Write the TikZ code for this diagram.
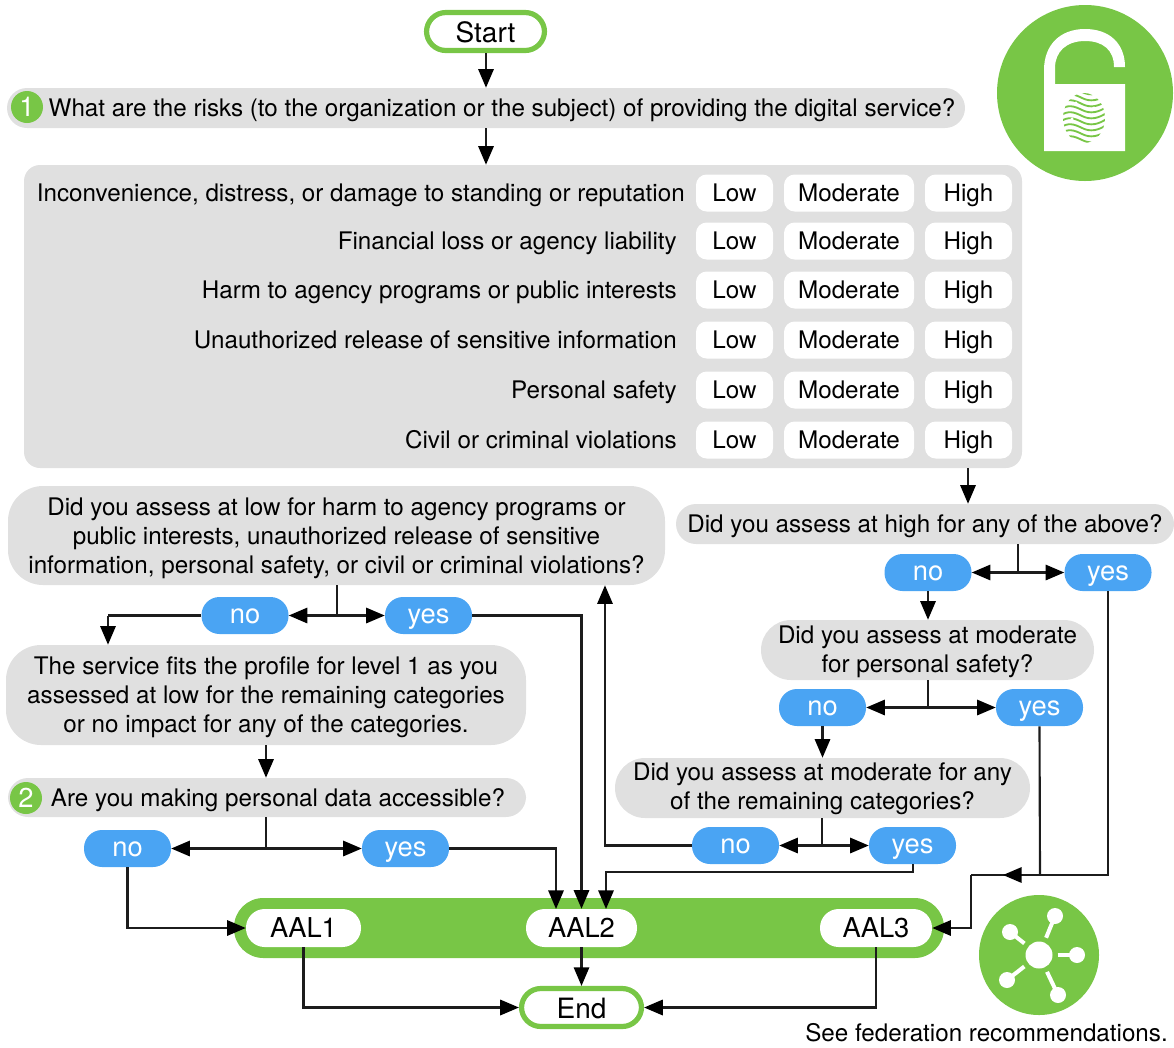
\documentclass[tikz,border=0pt]{standalone}
\usepackage{fontspec}
\setmainfont{TeX Gyre Heros}
\usetikzlibrary{arrows.meta,calc}
\definecolor{grn}{HTML}{78C646}
\definecolor{blu}{HTML}{4AA4F3}
\definecolor{gry}{HTML}{E0E0E0}
\definecolor{ink}{HTML}{1C1C1C}
\newcommand\topfix[1]{\rule{0pt}{#1pt}}
\tikzset{
  x=0.75pt,y=-0.75pt,
  size/.style 2 args={minimum width=#1*0.75pt,minimum height=#2*0.75pt,inner sep=0pt},
  txt/.style={font=\fontsize{18.15}{21.75}\selectfont,text=black},
  oneline/.style={text height=13pt,text depth=0pt},
  graybox/.style={fill=gry,rounded corners=#1*0.75pt,txt,align=center},
  cell/.style={fill=white,rounded corners=8pt,txt,oneline,size={#1}{37}},
  rowlabel/.style={txt,oneline,anchor=east,inner sep=0pt},
  pill/.style={fill=blu,rounded corners=13.5pt,text=white,font=\fontsize{20.5}{24}\selectfont,text height=11.8pt,text depth=0pt,size={87}{37}},
  term/.style={draw=grn,line width=3.9pt,fill=white,rounded corners=14.5pt,font=\fontsize{21}{24}\selectfont,text=black,text height=16.5pt,text depth=0pt},
  aal/.style={fill=white,rounded corners=14pt,font=\fontsize{20.5}{24}\selectfont,text=black,text height=14.7pt,text depth=0pt,size={#1}{38}},
  badge/.style={circle,fill=grn,text=white,minimum size=24pt,inner sep=0pt,font=\fontsize{20.5}{24}\selectfont,text height=14.7pt,text depth=0pt},
  conn/.style={draw=ink,line width=1.6pt},
  arr/.style={conn,-{Triangle[length=14pt,width=11.5pt,color=black]}},
  arrs/.style={conn,{Triangle[length=14pt,width=11.5pt,color=black]}-{Triangle[length=14pt,width=11.5pt,color=black]}},
}
\begin{document}
\begin{tikzpicture}
\useasboundingbox (0,0) rectangle (1174,1047);
% gray panels
\node[graybox=20,oneline,size={958}{40}] (q1) at (486,108) {\hspace*{24pt}What are the risks (to the organization or the subject) of providing the digital service?};
\node[badge] (b1) at (27,107) {1};
\node[graybox=16,size={998}{303}] (tbl) at (523,316.5) {};
\foreach \i/\y/\t/\rx in {
  1/193/Inconvenience{,} distress{,} or damage to standing or reputation/685,
  2/241/Financial loss or agency liability/677,
  3/290/Harm to agency programs or public interests/677,
  4/340/Unauthorized release of sensitive information/677,
  5/390/Personal safety/677,
  6/440/Civil or criminal violations/677}{
  \node[rowlabel] (r\i) at (\rx,\y) {\t};
  \node[cell=77] (low\i) at (734.5,\y) {Low};
  \node[cell=130] (mod\i) at (849,\y) {Moderate};
  \node[cell=87] (high\i) at (968.5,\y) {High};
}
\node[graybox=35,size={657}{99}] (qlow) at (336.5,535.5) {\topfix{17.5}Did you assess at low for harm to agency programs or\\public interests, unauthorized release of sensitive\\information, personal safety, or civil or criminal violations?};
\node[graybox=20,oneline,size={498}{40}] (qhigh) at (925,524) {Did you assess at high for any of the above?};
\node[graybox=30,size={333}{60}] (qmod) at (927.5,650) {\topfix{16}Did you assess at moderate\\for personal safety?};
\node[graybox=30,size={415}{60}] (qrem) at (822.5,788) {\topfix{15}Did you assess at moderate for any\\of the remaining categories?};
\node[graybox=35,size={520}{100}] (qfit) at (266,695) {\topfix{16}The service fits the profile for level 1 as you\\assessed at low for the remaining categories\\or no impact for any of the categories.};
\node[graybox=20,oneline,size={518}{39}] (q2) at (267,797.5) {\hspace*{16.5pt}Are you making personal data accessible?};
\node[badge] (b2) at (26,798) {2};
% pills
\node[pill] (noA) at (928,572.5) {no};
\node[pill] (yesA) at (1108,572.5) {yes};
\node[pill] (noB) at (822.5,707.5) {no};
\node[pill] (yesB) at (1039.5,707.5) {yes};
\node[pill] (noC) at (735.5,845.5) {no};
\node[pill] (yesC) at (912.5,845.5) {yes};
\node[pill] (noD) at (245,615.5) {no};
\node[pill] (yesD) at (428.5,615.5) {yes};
\node[pill] (noE) at (127.5,848.5) {no};
\node[pill] (yesE) at (405.5,848.5) {yes};
% terminals
\node[term,size={118}{38}] (startn) at (485.5,31.5) {Start};
\node[fill=grn,rounded corners=22pt,size={710}{60}] (bar) at (589,928) {};
\node[aal=115] (a1) at (303.5,928) {AAL1};
\node[aal=111] (a2) at (581.5,928) {AAL2};
\node[aal=112] (a3) at (876,928) {AAL3};
\node[term,size={120}{38}] (endn) at (581.5,1007.5) {End};
\node[txt,oneline,anchor=east,inner sep=0pt] (note) at (1168,1033) {See federation recommendations.};
% stems
\coordinate (sA) at (1018,573);
\coordinate (sB) at (928,708);
\coordinate (sC) at (822,845);
\coordinate (sD) at (337,616);
\coordinate (sE) at (266,848);
\coordinate (join) at (1040,875);
\coordinate (bend) at (971,875);
\coordinate (fitTop) at (108,615.5);
\coordinate (upX) at (605,845.5);
\coordinate (a2L) at (556,909);
\coordinate (a2R) at (606,909);
\coordinate (yesCb) at (913,872);
% connectors
\draw[arr] (startn.south -| 486,0) -- (q1.north -| 486,0);
\draw[arr] (q1.south -| 486,0) -- (tbl.north -| 486,0);
\draw[arr] (tbl.south -| 968,0) -- (qhigh.north -| 968,0);
\draw[conn] (qhigh.south -| sA) -- (sA);
\draw[arrs] (noA.east) -- (yesA.west);
\draw[arr] (noA.south) -- (qmod.north -| noA);
\draw[conn] (qmod.south -| sB) -- (sB);
\draw[arrs] (noB.east) -- (yesB.west);
\draw[arr] (noB.south) -- (qrem.north -| noB);
\draw[conn] (qrem.south -| sC) -- (sC);
\draw[arrs] (noC.east) -- (yesC.west);
\draw[conn] (qlow.south -| sD) -- (sD);
\draw[arrs] (noD.east) -- (yesD.west);
\draw[conn] (noD.west) -- (fitTop);
\draw[arr] (fitTop) -- (qfit.north -| fitTop);
\draw[arr] (qfit.south -| 266,0) -- (q2.north -| 266,0);
\draw[conn] (q2.south -| sE) -- (sE);
\draw[arrs] (noE.east) -- (yesE.west);
\draw[arr] (noE.south) |- (a1.west);
\draw[arr] (yesE.east) -| (a2L);
\draw[arr] (yesD.east) -| (a2.north);
\draw[arr] (noC.west) -- (upX) -- (qlow.south -| upX);
\draw[arr] (yesC.south -| yesCb) -- (yesCb) -- (yesCb -| a2R) -- (a2R);
\draw[conn] (yesB.south) -- (join);
\draw[conn] (yesA.south) |- (bend);
\draw[arr] (yesA.south |- join) -- ($(join)+(-37,0)$);
\draw[arr] (bend) |- (a3.east);
\draw[arr] (a2.south) -- (endn.north);
\draw[arr] (a1.south) |- (endn.west);
\draw[arr] (a3.south) |- (endn.east);
% lock emblem
\fill[grn] (1085,93) circle[radius=88];
\fill[white] (1044,151) -- (1044,70) .. controls (1044,45) and (1060,29) .. (1085,29)
  .. controls (1110,29) and (1125,44) .. (1125,67) -- (1114,67)
  .. controls (1114,50) and (1103,41) .. (1085,41)
  .. controls (1066,41) and (1055,52) .. (1055,68) -- (1055,84) -- (1125,84) -- (1125,151) -- cycle;
\begin{scope}
\clip (1084,118) ellipse[x radius=21,y radius=25];
\foreach \yy in {92,98,...,146}{
  \draw[grn,line width=1.4pt] (1060,\yy) .. controls (1068,\yy-6) and (1074,\yy-4) .. (1082,\yy)
     .. controls (1090,\yy+4) and (1098,\yy+3) .. (1108,\yy-4);
}
\foreach \xx/\yy in {1076/103,1094/108,1072/119,1096/121,1082/131}{
  \fill[white] (\xx,\yy) circle[radius=1.6];
}
\end{scope}
% federation emblem
\fill[grn] (1039,955) circle[radius=60];
\fill[white] (1039,955) circle[radius=13.5];
\foreach \px/\py in {1055/916,1010/932,1077/955,1007/980,1058/995}{
  \fill[white] (\px,\py) circle[radius=8];
  \draw[white,line width=3pt] ($(1039,955)!14pt!(\px,\py)$) -- (\px,\py);
}
\end{tikzpicture}
\end{document}
